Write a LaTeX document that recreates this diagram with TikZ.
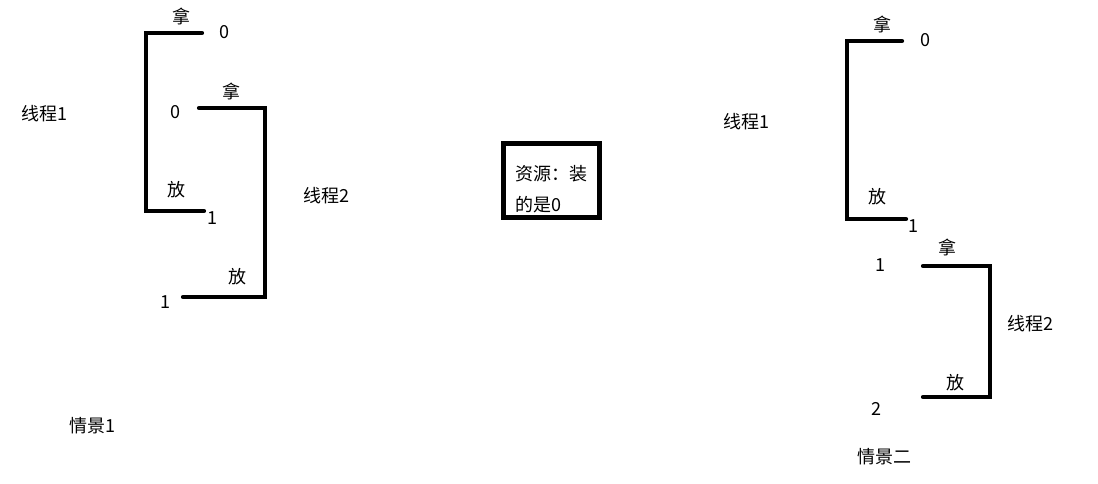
\documentclass[tikz,border=0pt]{standalone}
\usepackage{fontspec}
\setmainfont{Noto Sans CJK SC}
\begin{document}
\begin{tikzpicture}[x=1pt,y=-1pt,
  lbl/.style={inner sep=0pt,font=\fontsize{18}{21}\selectfont},
  bracket/.style={line width=4.2pt,line cap=round,line join=miter}]
\useasboundingbox[fill=white] (0,0) rectangle (1098,483);
% Scene 1
\coordinate (a1) at (202,33); \coordinate (a2) at (146,33);
\coordinate (a3) at (146,211); \coordinate (a4) at (204,211);
\draw[bracket] (a1) -- (a2) -- (a3) -- (a4);
\coordinate (b1) at (199,108); \coordinate (b2) at (265,108);
\coordinate (b3) at (265,297); \coordinate (b4) at (183,297);
\draw[bracket] (b1) -- (b2) -- (b3) -- (b4);
\node[lbl] (n1) at (181,16) {拿};
\node[lbl] (n2) at (224,32) {0};
\node[lbl] (n3) at (176,190) {放};
\node[lbl] (n4) at (212,218) {1};
\node[lbl] (n5) at (231,91) {拿};
\node[lbl] (n6) at (175,112) {0};
\node[lbl] (n7) at (237,277) {放};
\node[lbl] (n8) at (165,302) {1};
\node[lbl] (n9) at (44,114) {线程1};
\node[lbl] (n10) at (326,196) {线程2};
\node[lbl] (n11) at (92,426) {情景1};
% Resource box
\draw[line width=5pt] (503.5,143.5) rectangle (599.5,217.5);
\node[lbl,anchor=west] (r1) at (515,174) {资源：装};
\node[lbl,anchor=west] (r2) at (515,205) {的是0};
% Scene 2
\coordinate (c1) at (902,41); \coordinate (c2) at (847,41);
\coordinate (c3) at (847,219); \coordinate (c4) at (906,219);
\draw[bracket] (c1) -- (c2) -- (c3) -- (c4);
\coordinate (d1) at (923,266); \coordinate (d2) at (990,266);
\coordinate (d3) at (990,397); \coordinate (d4) at (923,397);
\draw[bracket] (d1) -- (d2) -- (d3) -- (d4);
\node[lbl] (m1) at (882,24) {拿};
\node[lbl] (m2) at (925,40) {0};
\node[lbl] (m3) at (877,197) {放};
\node[lbl] (m4) at (913,226) {1};
\node[lbl] (m5) at (746,122) {线程1};
\node[lbl] (m6) at (947,247) {拿};
\node[lbl] (m7) at (880,265) {1};
\node[lbl] (m8) at (1030,324) {线程2};
\node[lbl] (m9) at (955,383) {放};
\node[lbl] (m10) at (876,409) {2};
\node[lbl] (m11) at (884,457) {情景二};
\end{tikzpicture}
\end{document}
